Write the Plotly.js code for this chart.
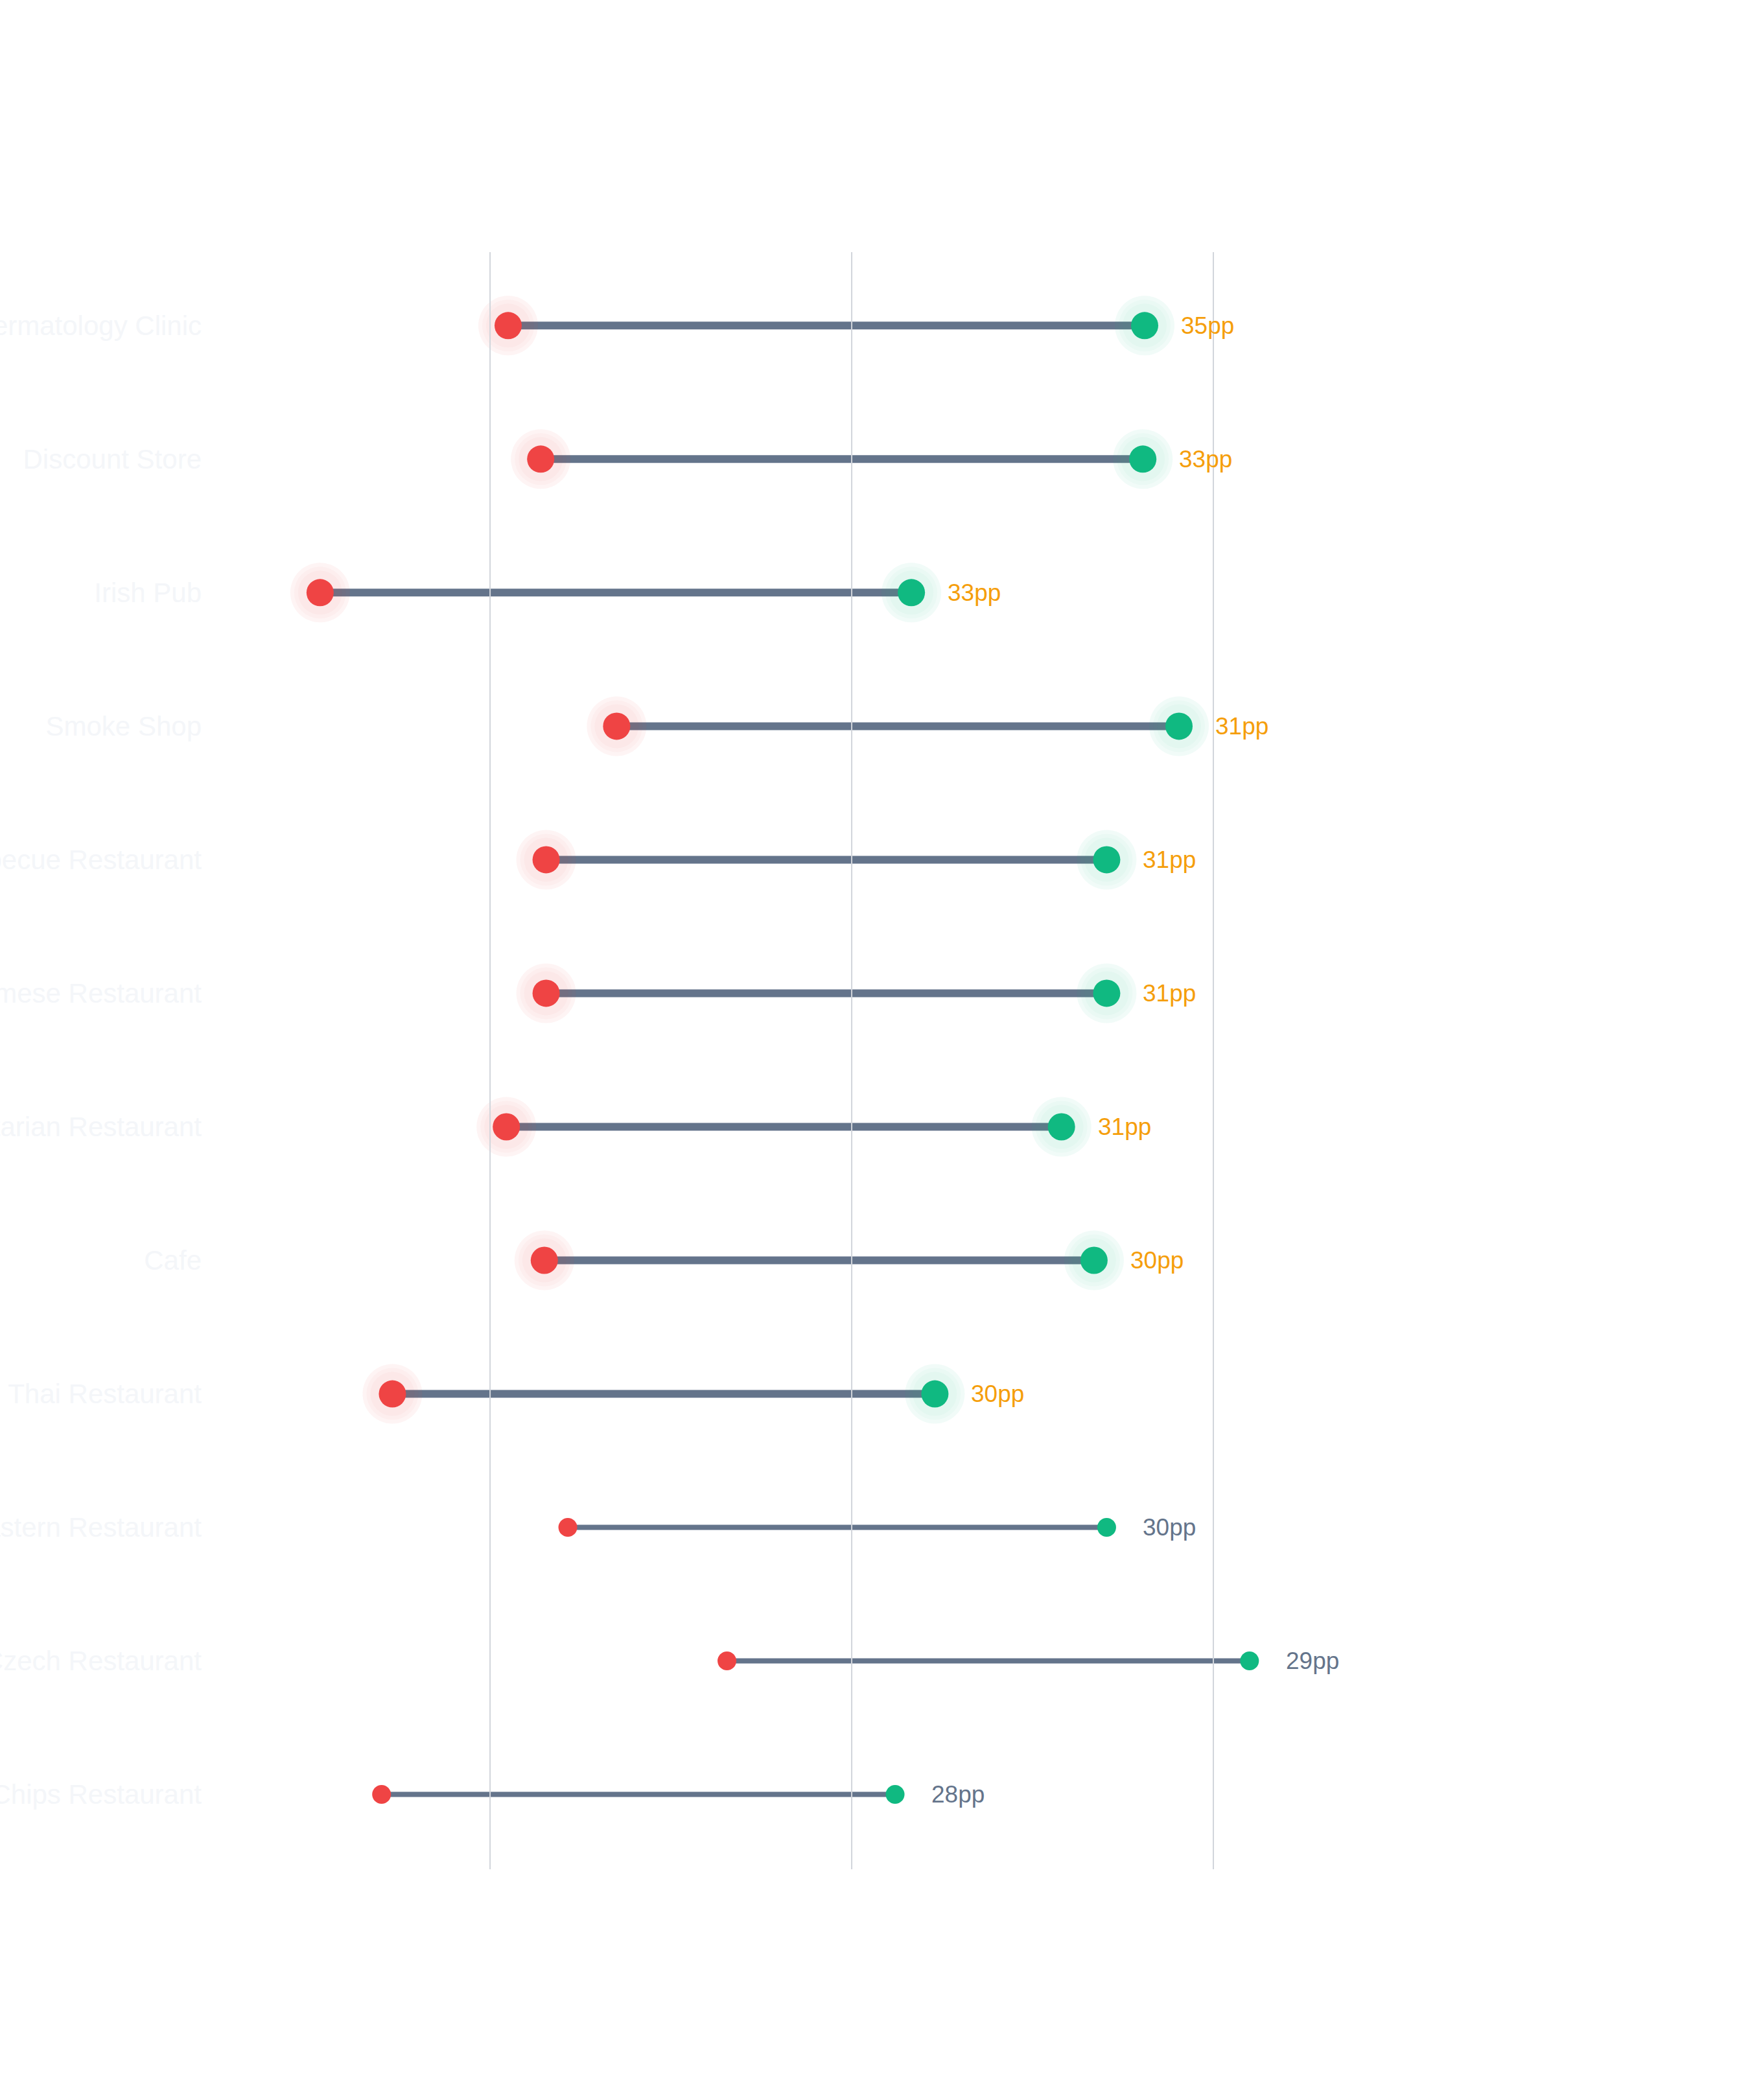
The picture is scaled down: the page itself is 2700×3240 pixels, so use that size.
<!DOCTYPE html>
<html>
<head>
<meta charset="utf-8">
<script src="https://cdn.plot.ly/plotly-3.0.1.min.js"></script>
<style>
  html, body { margin: 0; padding: 0; background: #ffffff; }
  #chart { width: 2700px; height: 3240px; }
</style>
</head>
<body>
<div id="chart"></div>
<script>
// categories, top to bottom
const categories = [
  "Dermatology Clinic", "Discount Store", "Irish Pub", "Smoke Shop",
  "Barbecue Restaurant", "Vietnamese Restaurant", "Vegetarian Restaurant", "Cafe",
  "Thai Restaurant", "Middle Eastern Restaurant", "Czech Restaurant", "Fish and Chips Restaurant"
];
// start (red) and end (green) values
const beforeVals = [21.0, 22.8, 10.6, 27.0, 23.1, 23.1, 20.9, 23.0, 14.6, 24.3, 33.1, 14.0];
const afterVals  = [56.2, 56.1, 43.3, 58.1, 54.1, 54.1, 51.6, 53.4, 44.6, 54.1, 62.0, 42.4];
const gridTicks = [20, 40, 60];
const topN = 9; // rows drawn with the big markers and orange labels

const RED = "#ef4444", GREEN = "#10b981", SLATE = "#64748b", ORANGE = "#f59e0b";

function pick(arr, hi) {
  return arr.filter((v, i) => hi ? i < topN : i >= topN);
}

function segTrace(hi) {
  let xs = [], ys = [];
  categories.forEach((c, i) => {
    if ((i < topN) !== hi) return;
    xs.push(beforeVals[i], afterVals[i], null);
    ys.push(c, c, null);
  });
  return {
    type: "scatter", mode: "lines", x: xs, y: ys, hoverinfo: "skip",
    line: { color: SLATE, width: hi ? 12 : 8 }, showlegend: false
  };
}

function dotTrace(vals, color, size, alpha, hi) {
  return {
    type: "scatter", mode: "markers",
    x: pick(vals, hi), y: pick(categories, hi),
    marker: { color: color, size: size, opacity: alpha, line: { width: 0 } },
    hoverinfo: "skip", showlegend: false
  };
}

let data = [segTrace(true), segTrace(false)];

// soft halo rings behind the highlighted dots
const rings = [[92, 0.06], [80, 0.03], [68, 0.03]];
rings.forEach(r => {
  data.push(dotTrace(beforeVals, RED, r[0], r[1], true));
  data.push(dotTrace(afterVals, GREEN, r[0], r[1], true));
});
data.push(dotTrace(beforeVals, RED, 42, 1, true));
data.push(dotTrace(afterVals, GREEN, 42, 1, true));
data.push(dotTrace(beforeVals, RED, 29, 1, false));
data.push(dotTrace(afterVals, GREEN, 29, 1, false));

const annotations = categories.map((c, i) => ({
  x: afterVals[i], y: c, xref: "x", yref: "y",
  text: Math.round(afterVals[i] - beforeVals[i]) + "pp",
  showarrow: false, xanchor: "left", yanchor: "middle", xshift: 54,
  font: { family: "Liberation Sans, Arial, sans-serif", size: 37, color: i < topN ? ORANGE : SLATE }
}));

const shapes = gridTicks.map(v => ({
  type: "line", xref: "x", yref: "paper", x0: v, x1: v, y0: 0, y1: 1,
  line: { color: "#d1d5db", width: 2 }, layer: "above"
}));

const layout = {
  width: 2700, height: 3240,
  margin: { l: 322, r: 270, t: 389, b: 356, pad: 0 },
  paper_bgcolor: "#ffffff", plot_bgcolor: "#ffffff",
  font: { family: "Liberation Sans, Arial, sans-serif" },
  showlegend: false,
  xaxis: {
    range: [4.44, 80], showgrid: false, zeroline: false, showline: false,
    showticklabels: false, ticks: ""
  },
  yaxis: {
    type: "category", categoryorder: "array", categoryarray: categories,
    range: [11.56, -0.55], showgrid: false, zeroline: false, showline: false, ticks: "",
    ticklabelstandoff: 10,
    tickfont: { family: "Liberation Sans, Arial, sans-serif", size: 42, color: "#f4f6f9" }
  },
  shapes: shapes,
  annotations: annotations
};

Plotly.newPlot("chart", data, layout, { displayModeBar: false, staticPlot: true });
</script>
</body>
</html>
